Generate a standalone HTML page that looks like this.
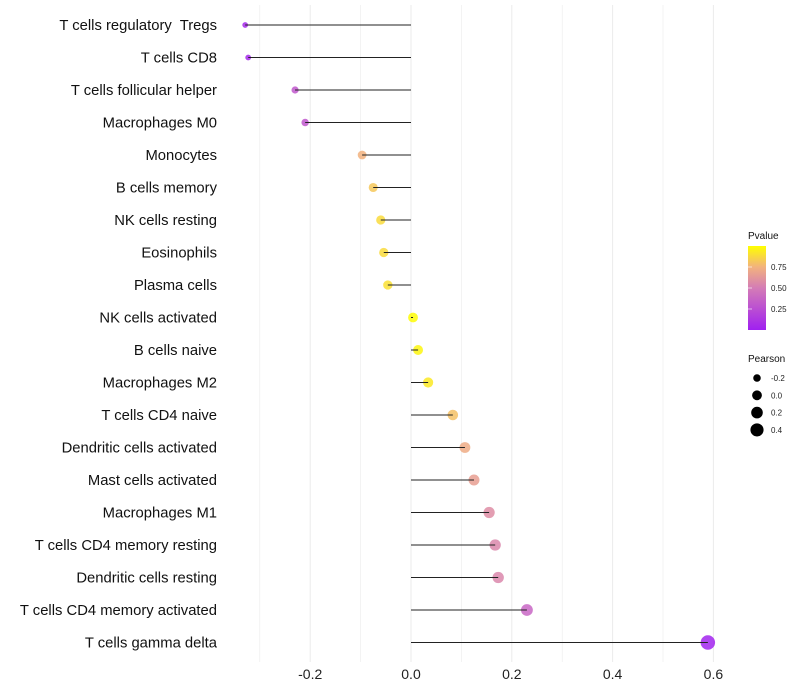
<!DOCTYPE html>
<html><head><meta charset="utf-8"><style>body{margin:0;background:#fff}svg{display:block;font-family:"Liberation Sans",sans-serif}</style></head>
<body>
<svg id="c" width="800" height="700">
<defs><linearGradient id="g" x1="0" y1="1" x2="0" y2="0">
<stop offset="0" stop-color="#a020f0"/><stop offset="0.5" stop-color="#d47cb6"/><stop offset="0.75" stop-color="#f2b27e"/><stop offset="1" stop-color="#ffff00"/></linearGradient></defs>
</svg>
<script>
const categories=["T cells regulatory  Tregs","T cells CD8","T cells follicular helper","Macrophages M0","Monocytes","B cells memory","NK cells resting","Eosinophils","Plasma cells","NK cells activated","B cells naive","Macrophages M2","T cells CD4 naive","Dendritic cells activated","Mast cells activated","Macrophages M1","T cells CD4 memory resting","Dendritic cells resting","T cells CD4 memory activated","T cells gamma delta"];
const pearson=[-0.329,-0.323,-0.230,-0.210,-0.097,-0.075,-0.060,-0.054,-0.046,0.004,0.014,0.034,0.083,0.107,0.125,0.155,0.167,0.173,0.230,0.589];
const pvalue=[0.05,0.05,0.3,0.3,0.75,0.82,0.88,0.88,0.9,0.99,0.97,0.93,0.8,0.72,0.66,0.58,0.55,0.55,0.38,0.02];
const xTicks=[-0.2,0,0.2,0.4,0.6];
const pTicks=[0.25,0.5,0.75];
const sizeTicks=[-0.2,0,0.2,0.4];
const svg=document.getElementById('c');const NS='http://www.w3.org/2000/svg';
const X=v=>411+v*504, Y=i=>25+i*32.5, R=v=>Math.sqrt(Math.max(1,24+48*v));
function col(p){const st=[[0,[160,32,240]],[0.5,[212,124,182]],[0.75,[242,178,126]],[1,[255,255,0]]];
for(let k=1;k<st.length;k++){if(p<=st[k][0]){const a=st[k-1],b=st[k],t=(p-a[0])/(b[0]-a[0]);return 'rgb('+a[1].map((c,j)=>Math.round(c+(b[1][j]-c)*t)).join(',')+')';}}return 'rgb(255,255,0)';}
function el(t,a,txt){const e=document.createElementNS(NS,t);for(const k in a)e.setAttribute(k,a[k]);if(txt!=null)e.textContent=txt;svg.appendChild(e);return e;}
for(let v=-0.3;v<=0.65;v+=0.1){const g=el('line',{x1:X(v),x2:X(v),y1:5,y2:662,stroke:'#ebebeb','stroke-width':Math.abs(Math.round(v*10))%2==0?1:0.6});
}
xTicks.forEach(v=>{const t=el('text',{x:X(v),y:679,'text-anchor':'middle','font-size':14,fill:'#222'},v==0?'0.0':v.toFixed(1));
});
categories.forEach((c,i)=>{const y=Y(i);
const t=el('text',{x:217,y:y+5,'text-anchor':'end','font-size':14.8,fill:'#111','xml:space':'preserve'},c);
t.style.whiteSpace='pre';

const p=el('circle',{cx:X(pearson[i]),cy:y,r:R(pearson[i]),fill:col(pvalue[i]),'fill-opacity':0.85});

const l=el('line',{x1:X(0),x2:X(pearson[i]),y1:y,y2:y,stroke:'#222','stroke-width':1});
});
let t=el('text',{x:748,y:239,'font-size':10,fill:'#111'},'Pvalue');
let r=el('rect',{x:748,y:246,width:18,height:84,fill:'url(#g)'});
pTicks.forEach(v=>{const y=330-v*84;const k=el('text',{x:771,y:y+3,'font-size':8,fill:'#222'},v.toFixed(2));
const m=el('line',{x1:748,x2:752,y1:y,y2:y,stroke:'#fff','stroke-opacity':0.6});});
t=el('text',{x:748,y:362,'font-size':10,fill:'#111'},'Pearson');
sizeTicks.forEach((v,i)=>{const y=378+i*17.3;const c=el('circle',{cx:757,cy:y,r:R(v),fill:'#000'});
const k=el('text',{x:771,y:y+3,'font-size':8,fill:'#222'},v.toFixed(1));});
</script>
</body></html>
